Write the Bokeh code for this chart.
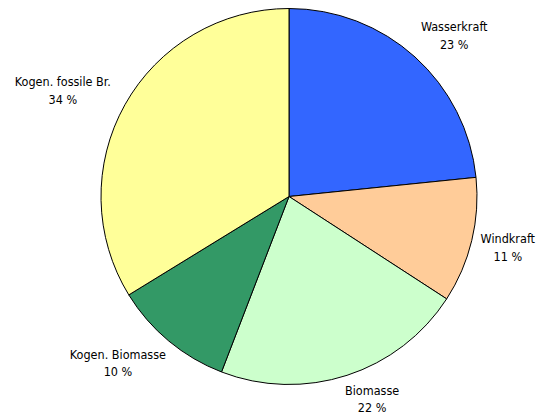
import math
from bokeh.plotting import figure
from bokeh.models import ColumnDataSource, Range1d
from bokeh.core.properties import value
from bokeh.embed import file_html
from bokeh.resources import INLINE

categories = ["Wasserkraft", "Windkraft", "Biomasse", "Kogen. Biomasse", "Kogen. fossile Br."]
shares = [23.4, 10.8, 21.7, 10.4, 33.8]
colors = ["#3366FF", "#FFCC99", "#CCFFCC", "#339966", "#FFFF99"]

W, H = 539, 414
cx_px, cy_px, r_px = 288.5, 196, 188  # pie centre / radius in pixels

total = float(sum(shares))
starts, ends, lx, ly, xo, yo, texts = [], [], [], [], [], [], []
cum = 0.0
char_w, half_h = 6.3, 15
for cat, s in zip(categories, shares):
    a0 = math.pi / 2 - cum / total * 2 * math.pi
    cum += s
    a1 = math.pi / 2 - cum / total * 2 * math.pi
    starts.append(a0)
    ends.append(a1)
    mid = (a0 + a1) / 2
    c, sn = math.cos(mid), math.sin(mid)
    lx.append(1.05 * c)
    ly.append(1.05 * sn)
    w = max(len(cat), 4) * char_w
    xo.append(max(-1, min(1, 3 * c)) * w / 2 * 0.95)
    yo.append(-max(-1, min(1, 1.3 * sn)) * half_h)
    texts.append(f"{cat}\n{round(s / total * 100)} %")

src = ColumnDataSource(dict(start=starts, end=ends, color=colors))
lab = ColumnDataSource(dict(x=lx, y=ly, xo=xo, yo=yo, text=texts))

p = figure(width=W, height=H, output_backend="svg", toolbar_location=None,
           min_border=0, outline_line_color=None,
           x_range=Range1d(-cx_px / r_px, (W - cx_px) / r_px),
           y_range=Range1d(-(H - cy_px) / r_px, cy_px / r_px))
p.axis.visible = False
p.grid.visible = False
p.background_fill_color = "white"
p.border_fill_color = "white"

p.wedge(x=0, y=0, radius=1, start_angle="start", end_angle="end", direction="clock",
        fill_color="color", line_color="black", line_width=1, source=src)

p.text(x="x", y="y", text="text", x_offset="xo", y_offset="yo", source=lab,
       text_align="center", text_baseline="middle", text_font_size="12.5px",
       text_font=value("DejaVu Sans Condensed, DejaVu Sans"), text_color="black",
       text_line_height=1.15)

open("out.html", "w").write(file_html(p, INLINE))
